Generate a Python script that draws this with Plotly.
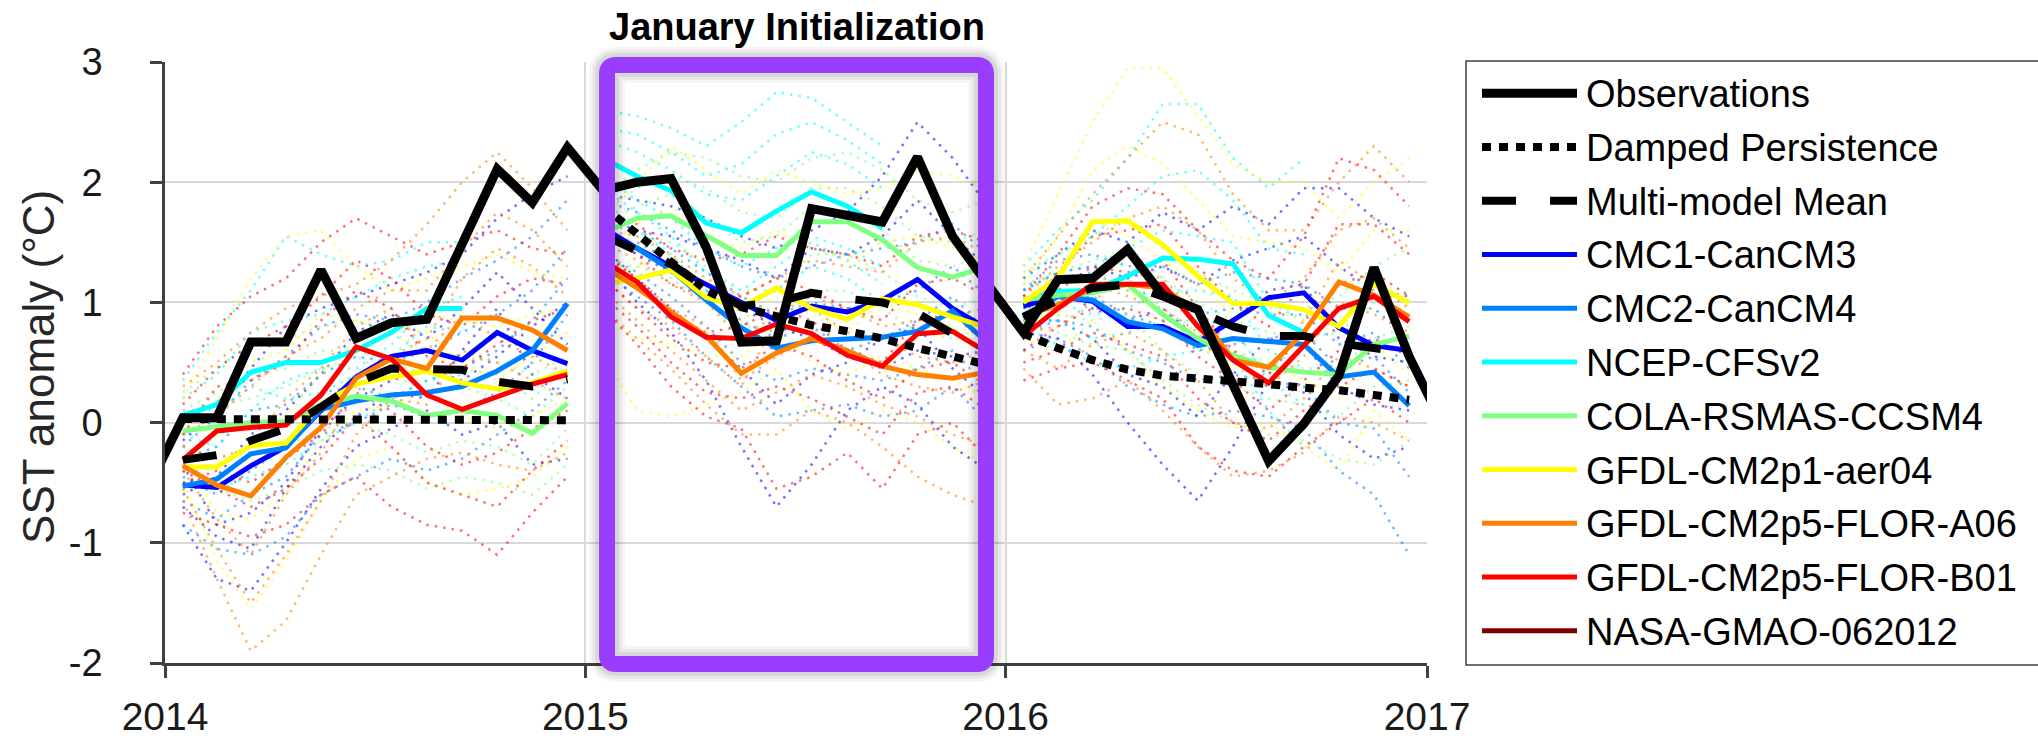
import pandas as pd
import plotly.graph_objects as go

FONT = "Arial, 'Liberation Sans', Helvetica, sans-serif"

# ---------------------------------------------------------------- data
# monthly means are plotted at mid-month, Dec 2013 .. Jan 2017
month_starts = pd.date_range("2013-12-01", "2017-02-01", freq="MS")
month_mid = month_starts[:-1] + (month_starts[1:] - month_starts[:-1]) / 2

forecast_years = [2014, 2015, 2016]
year_ticks = ["2014", "2015", "2016", "2017"]
y_ticks = [-2, -1, 0, 1, 2, 3]
y_tick_text = ["-2", "-1", "0", "1", "2", "3"]

observations = [
    -0.56,
    0.04, 0.04, 0.67, 0.67, 1.27, 0.70, 0.83, 0.86, 1.48, 2.11, 1.83, 2.29,
    1.93, 2.00, 2.03, 1.46, 0.67, 0.68, 1.78, 1.72, 1.67, 2.21, 1.55, 1.15,
    0.75, 1.19, 1.20, 1.44, 1.06, 0.94, 0.33, -0.32, -0.01, 0.39, 1.29, 0.55,
    -0.05,
]

damped_persistence = {
    2014: [0.03, 0.03, 0.03, 0.02, 0.02, 0.02, 0.02, 0.02, 0.02, 0.02, 0.02, 0.02],
    2015: [1.80, 1.57, 1.32, 1.10, 0.96, 0.88, 0.81, 0.76, 0.70, 0.62, 0.55, 0.48],
    2016: [0.74, 0.62, 0.52, 0.44, 0.39, 0.37, 0.35, 0.32, 0.29, 0.27, 0.23, 0.19],
}

multi_model_mean = {
    2014: [-0.31, -0.27, -0.15, -0.05, 0.13, 0.33, 0.45, 0.45, 0.44, 0.34, 0.30, 0.36],
    2015: [1.56, 1.43, 1.32, 1.12, 0.97, 1.00, 1.08, 1.03, 1.00, 0.91, 0.74, 0.62],
    2016: [0.88, 1.02, 1.12, 1.15, 1.05, 0.92, 0.80, 0.72, 0.72, 0.66, 0.62, 0.58],
}

# ensemble means by initialization year
cmc1_mean = {
    2014: [-0.52, -0.54, -0.36, -0.20, 0.10, 0.38, 0.55, 0.60, 0.52, 0.75, 0.60, 0.49],
    2015: [1.62, 1.45, 1.30, 1.15, 1.00, 0.85, 0.97, 0.92, 1.02, 1.19, 0.95, 0.78],
    2016: [0.97, 1.05, 1.01, 0.80, 0.80, 0.67, 0.85, 1.04, 1.08, 0.79, 0.64, 0.60],
}
cmc2_mean = {
    2014: [-0.53, -0.47, -0.26, -0.21, 0.11, 0.18, 0.23, 0.25, 0.30, 0.43, 0.60, 0.99],
    2015: [1.55, 1.45, 1.27, 1.02, 0.79, 0.62, 0.68, 0.70, 0.71, 0.76, 0.93, 0.66],
    2016: [0.87, 1.05, 1.02, 0.84, 0.78, 0.64, 0.70, 0.68, 0.65, 0.38, 0.42, 0.14],
}
cfsv2_mean = {
    2014: [0.06, 0.15, 0.42, 0.50, 0.50, 0.60, 0.75, 0.95, 0.95],
    2015: [2.20, 2.05, 1.93, 1.66, 1.58, 1.76, 1.92, 1.80, 1.62],
    2016: [1.02, 1.09, 1.10, 1.22, 1.37, 1.36, 1.32, 0.89, 0.75],
}
ccsm4_mean = {
    2014: [-0.07, -0.04, 0.00, 0.01, 0.15, 0.22, 0.18, 0.06, 0.10, 0.06, -0.09, 0.16],
    2015: [1.58, 1.70, 1.72, 1.55, 1.39, 1.39, 1.67, 1.67, 1.52, 1.29, 1.21, 1.30],
    2016: [1.02, 1.06, 1.08, 1.15, 0.90, 0.70, 0.56, 0.46, 0.42, 0.40, 0.65, 0.72],
}
cm2p1_mean = {
    2014: [-0.37, -0.37, -0.19, -0.17, 0.15, 0.32, 0.38, 0.43, 0.33, 0.28, 0.33, 0.43],
    2015: [1.15, 1.20, 1.27, 1.04, 0.96, 1.12, 0.95, 0.86, 1.03, 0.98, 0.88, 0.79],
    2016: [1.00, 1.20, 1.67, 1.68, 1.48, 1.22, 0.99, 0.99, 0.94, 0.80, 1.15, 1.00],
}
flor_a06_mean = {
    2014: [-0.36, -0.52, -0.61, -0.29, -0.04, 0.37, 0.53, 0.45, 0.87, 0.87, 0.77, 0.60],
    2015: [1.30, 1.12, 0.92, 0.72, 0.41, 0.58, 0.70, 0.60, 0.47, 0.40, 0.37, 0.42],
    2016: [0.88, 0.98, 1.12, 1.15, 1.12, 0.92, 0.52, 0.46, 0.75, 1.17, 1.06, 0.88],
}
flor_b01_mean = {
    2014: [-0.31, -0.07, -0.04, -0.02, 0.23, 0.63, 0.53, 0.23, 0.11, 0.21, 0.32, 0.40],
    2015: [1.35, 1.17, 0.88, 0.71, 0.70, 0.82, 0.74, 0.56, 0.47, 0.74, 0.76, 0.58],
    2016: [0.72, 0.95, 1.15, 1.15, 1.15, 0.80, 0.52, 0.33, 0.64, 0.95, 1.05, 0.84],
}
gmao_mean = {2014: [], 2015: [], 2016: []}

# individual ensemble members
cmc1_members = {
    2014: [[-0.15, 0.10, 0.45, 0.80, 0.95, 1.05, 1.15, 1.25, 1.40, 1.70, 1.90, 2.05],
           [-0.85, -1.30, -1.40, -1.00, -0.55, -0.20, -0.05, 0.10, -0.10, 0.00, -0.35, -0.30],
           [-0.60, -0.45, -0.10, 0.10, 0.40, 0.75, 0.90, 0.70, 0.95, 1.25, 0.95, 0.65],
           [-0.35, -0.85, -0.75, -0.50, -0.05, 0.20, 0.35, 0.45, 0.35, 0.55, 0.80, 1.00],
           [-0.70, -0.95, -1.05, -0.55, -0.20, 0.05, 0.25, 0.20, 0.60, 0.95, 0.40, 0.20]],
    2015: [[1.90, 1.85, 1.80, 1.70, 1.55, 1.45, 1.60, 1.75, 2.05, 2.50, 2.20, 1.80],
           [1.35, 1.00, 0.75, 0.35, -0.20, -0.70, -0.35, 0.10, 0.30, 0.15, -0.20, -0.40],
           [1.55, 1.40, 1.25, 1.05, 0.95, 0.80, 0.70, 0.55, 0.45, 0.60, 0.55, 0.60],
           [1.70, 1.60, 1.55, 1.45, 1.35, 1.20, 1.45, 1.40, 1.55, 1.85, 1.55, 1.30],
           [1.45, 1.20, 0.95, 0.70, 0.45, 0.15, 0.40, 0.50, 0.70, 0.80, 0.45, 0.20]],
    2016: [[1.20, 1.40, 1.60, 1.50, 1.75, 1.60, 1.80, 1.65, 1.95, 1.95, 1.70, 1.55],
           [0.75, 0.70, 0.40, 0.00, -0.35, -0.65, -0.20, 0.35, 0.25, -0.10, -0.30, -0.20],
           [0.95, 1.10, 0.95, 0.85, 0.95, 0.70, 0.85, 1.10, 1.15, 0.70, 0.55, 0.50],
           [1.10, 1.25, 1.30, 1.20, 1.30, 1.15, 1.35, 1.45, 1.55, 1.30, 1.10, 1.05],
           [0.85, 0.85, 0.70, 0.40, 0.30, 0.05, 0.40, 0.70, 0.65, 0.30, 0.15, 0.10]],
}
cmc2_members = {
    2014: [[-0.20, 0.05, 0.35, 0.55, 0.80, 0.90, 0.85, 1.00, 1.20, 1.35, 1.55, 1.85],
           [-0.85, -1.05, -1.10, -0.95, -0.60, -0.45, -0.30, -0.40, -0.30, -0.10, 0.10, 0.35],
           [-0.45, -0.60, -0.40, -0.20, 0.25, 0.30, 0.20, 0.35, 0.45, 0.60, 0.85, 1.20],
           [-0.65, -0.80, -0.60, -0.45, -0.10, 0.00, 0.15, 0.05, 0.10, 0.25, 0.50, 0.90],
           [-0.30, -0.20, 0.10, 0.15, 0.40, 0.55, 0.50, 0.60, 0.75, 0.90, 1.10, 1.45]],
    2015: [[1.85, 1.75, 1.60, 1.45, 1.30, 1.20, 1.30, 1.40, 1.45, 1.50, 1.65, 1.40],
           [1.25, 1.05, 0.85, 0.55, 0.30, 0.05, 0.10, 0.15, 0.05, 0.10, 0.30, 0.00],
           [1.50, 1.50, 1.35, 1.10, 0.85, 0.70, 0.80, 0.60, 0.70, 0.85, 1.05, 0.75],
           [1.65, 1.60, 1.45, 1.25, 1.05, 0.90, 1.00, 0.95, 1.00, 1.10, 1.30, 1.05],
           [1.40, 1.25, 1.05, 0.80, 0.50, 0.35, 0.45, 0.40, 0.35, 0.45, 0.60, 0.30]],
    2016: [[1.10, 1.35, 1.40, 1.30, 1.30, 1.15, 1.25, 1.20, 1.15, 0.95, 0.95, 0.70],
           [0.60, 0.70, 0.55, 0.30, 0.15, 0.05, 0.10, 0.05, -0.05, -0.40, -0.60, -1.10],
           [0.85, 1.00, 1.05, 0.90, 0.80, 0.60, 0.65, 0.70, 0.75, 0.45, 0.55, 0.25],
           [0.95, 1.20, 1.25, 1.10, 1.05, 0.90, 0.95, 0.90, 0.90, 0.65, 0.75, 0.45],
           [0.75, 0.85, 0.80, 0.60, 0.50, 0.35, 0.40, 0.35, 0.30, 0.00, -0.05, -0.45]],
}
cfsv2_members = {
    2014: [[0.35, 0.75, 1.10, 1.55, 1.40, 1.30, 1.35, 1.50, 1.50],
           [-0.30, -0.55, -0.45, -0.35, -0.15, 0.00, 0.20, 0.35, 0.40],
           [0.20, 0.40, 0.75, 0.85, 0.90, 1.05, 1.20, 1.30, 1.35],
           [0.10, 0.10, 0.30, 0.20, 0.25, 0.40, 0.55, 0.80, 0.75],
           [-0.10, -0.20, 0.10, 0.35, 0.45, 0.45, 0.65, 0.95, 1.05]],
    2015: [[2.60, 2.55, 2.45, 2.30, 2.50, 2.75, 2.70, 2.50, 2.30],
           [1.85, 1.60, 1.40, 1.10, 0.95, 1.10, 1.30, 1.20, 1.00],
           [2.35, 2.25, 2.10, 1.90, 1.85, 2.05, 2.25, 2.15, 1.95],
           [2.05, 1.85, 1.70, 1.45, 1.30, 1.45, 1.55, 1.45, 1.30],
           [2.45, 2.40, 2.25, 2.05, 2.15, 2.40, 2.50, 2.35, 2.15],
           [1.95, 1.75, 1.55, 1.25, 1.10, 1.30, 1.50, 1.35, 1.15]],
    2016: [[1.30, 1.60, 1.85, 2.20, 2.65, 2.65, 2.20, 1.95, 2.20],
           [0.80, 0.65, 0.50, 0.45, 0.55, 0.60, 0.55, 0.10, -0.20],
           [1.10, 1.25, 1.30, 1.45, 1.60, 1.55, 1.50, 1.00, 0.85],
           [0.95, 1.00, 0.90, 0.95, 1.10, 1.10, 1.05, 0.60, 0.45],
           [1.20, 1.40, 1.55, 1.80, 2.05, 2.10, 1.85, 1.45, 1.40],
           [0.85, 0.85, 0.70, 0.75, 0.85, 0.85, 0.80, 0.35, 0.15]],
}
ccsm4_members = {
    2014: [[0.25, 0.45, 0.65, 0.70, 0.80, 0.85, 0.75, 0.60, 0.55, 0.50, 0.40, 0.55],
           [-0.35, -0.55, -0.65, -0.55, -0.40, -0.35, -0.40, -0.55, -0.45, -0.50, -0.60, -0.35],
           [0.05, 0.15, 0.20, 0.30, 0.45, 0.55, 0.40, 0.25, 0.30, 0.20, 0.05, 0.30],
           [-0.20, -0.30, -0.25, -0.20, -0.05, 0.00, -0.10, -0.25, -0.15, -0.20, -0.35, -0.05],
           [0.10, 0.25, 0.40, 0.45, 0.60, 0.60, 0.50, 0.40, 0.45, 0.40, 0.20, 0.45]],
    2015: [[1.90, 2.10, 2.25, 2.20, 2.05, 2.00, 2.20, 2.25, 2.10, 1.85, 1.75, 1.85],
           [1.30, 1.30, 1.20, 1.00, 0.80, 0.80, 1.10, 1.10, 0.95, 0.75, 0.70, 0.80],
           [1.65, 1.80, 1.90, 1.70, 1.50, 1.55, 1.80, 1.75, 1.60, 1.35, 1.30, 1.40],
           [1.75, 1.95, 2.05, 1.95, 1.75, 1.70, 1.95, 1.95, 1.80, 1.55, 1.50, 1.60],
           [1.45, 1.55, 1.50, 1.30, 1.10, 1.10, 1.40, 1.40, 1.25, 1.05, 0.95, 1.05]],
    2016: [[1.25, 1.40, 1.55, 1.70, 1.45, 1.25, 1.10, 1.00, 0.95, 1.05, 1.30, 1.45],
           [0.80, 0.75, 0.65, 0.60, 0.35, 0.15, 0.00, -0.10, -0.15, -0.30, -0.35, -0.15],
           [1.00, 1.05, 1.10, 1.20, 0.95, 0.75, 0.60, 0.50, 0.45, 0.45, 0.70, 0.80],
           [1.15, 1.25, 1.35, 1.45, 1.20, 1.00, 0.85, 0.75, 0.70, 0.75, 1.00, 1.10],
           [0.90, 0.90, 0.85, 0.90, 0.60, 0.40, 0.30, 0.20, 0.15, 0.05, 0.30, 0.35]],
}
cm2p1_members = {
    2014: [[0.20, 0.70, 1.20, 1.55, 1.60, 1.30, 1.10, 1.20, 1.30, 1.40, 1.25, 1.20],
           [-0.50, -1.15, -1.55, -1.15, -0.65, -0.30, -0.20, -0.50, -0.60, -0.55, -0.45, -0.20],
           [-0.55, -0.45, -0.30, 0.05, 0.40, 0.70, 0.80, 0.75, 0.50, 0.35, 0.55, 0.75],
           [-0.30, -0.75, -0.80, -0.60, -0.15, 0.10, 0.15, 0.25, 0.05, -0.05, 0.05, 0.20],
           [-0.10, 0.20, 0.50, 0.60, 0.90, 0.85, 0.75, 0.90, 0.85, 0.80, 0.90, 0.95]],
    2015: [[1.70, 2.00, 2.30, 2.10, 1.90, 2.10, 2.00, 1.90, 1.95, 2.10, 2.05, 1.95],
           [0.55, 0.10, 0.05, 0.15, 0.25, 0.45, 0.10, -0.05, 0.10, 0.00, -0.20, -0.35],
           [1.20, 1.30, 1.40, 1.00, 0.85, 1.05, 0.90, 0.75, 1.00, 0.90, 0.80, 0.70],
           [1.45, 1.65, 1.80, 1.55, 1.45, 1.60, 1.45, 1.35, 1.50, 1.55, 1.45, 1.35],
           [0.85, 0.70, 0.65, 0.55, 0.55, 0.75, 0.50, 0.40, 0.55, 0.45, 0.35, 0.20]],
    2016: [[1.30, 1.90, 2.50, 2.95, 2.95, 2.55, 2.15, 2.00, 2.00, 1.70, 2.00, 2.20],
           [0.70, 0.60, 0.85, 0.60, 0.30, 0.10, -0.05, 0.00, -0.20, -0.40, 0.10, -0.15],
           [1.05, 1.25, 1.70, 1.55, 1.35, 1.15, 0.90, 0.95, 0.85, 0.75, 1.20, 0.95],
           [1.15, 1.55, 2.10, 2.30, 2.15, 1.85, 1.55, 1.50, 1.45, 1.25, 1.60, 1.60],
           [0.85, 0.90, 1.25, 1.10, 0.90, 0.65, 0.45, 0.50, 0.35, 0.20, 0.65, 0.40]],
}
flor_a06_members = {
    2014: [[0.30, 0.50, 0.75, 0.95, 1.05, 1.15, 1.35, 1.65, 2.00, 2.25, 1.95, 1.60],
           [-0.65, -1.30, -1.90, -1.65, -1.10, -0.60, -0.45, -0.30, -0.25, -0.35, -0.40, -0.25],
           [-0.40, -0.80, -1.10, -0.60, -0.25, 0.25, 0.55, 0.70, 1.20, 1.45, 1.30, 1.05],
           [-0.20, -0.30, -0.20, 0.20, 0.45, 0.80, 0.95, 0.60, 0.90, 0.70, 0.55, 0.40],
           [-0.55, -1.05, -1.50, -1.10, -0.65, -0.10, 0.20, 0.15, 0.60, 0.50, 0.35, 0.20],
           [-0.10, 0.05, 0.30, 0.55, 0.70, 0.95, 1.10, 1.10, 1.45, 1.75, 1.60, 1.30]],
    2015: [[1.60, 1.55, 1.40, 1.20, 1.05, 1.20, 1.35, 1.30, 1.25, 1.50, 1.55, 1.40],
           [0.95, 0.70, 0.45, 0.15, -0.10, -0.10, 0.10, 0.00, -0.20, -0.45, -0.60, -0.70],
           [1.40, 1.20, 0.95, 0.80, 0.35, 0.55, 0.70, 0.60, 0.40, 0.30, 0.25, 0.35],
           [1.20, 0.95, 0.80, 0.55, 0.30, 0.85, 0.95, 0.75, 0.70, 0.55, 0.50, 0.60],
           [1.10, 0.85, 0.60, 0.35, 0.10, 0.25, 0.40, 0.30, 0.15, 0.05, -0.10, -0.20],
           [1.50, 1.35, 1.15, 1.00, 0.70, 0.90, 1.05, 0.95, 0.80, 0.85, 0.90, 0.95]],
    2016: [[1.20, 1.55, 1.90, 2.20, 2.50, 2.40, 1.90, 1.60, 1.60, 2.00, 2.30, 2.00],
           [0.45, 0.15, 0.20, 0.35, 0.10, -0.20, -0.45, -0.40, -0.25, 0.05, 0.00, -0.15],
           [0.90, 1.05, 1.15, 1.05, 0.95, 0.75, 0.35, 0.40, 0.85, 1.35, 1.15, 0.95],
           [0.75, 0.80, 1.00, 1.25, 1.20, 0.90, 0.55, 0.30, 0.55, 1.00, 0.90, 0.75],
           [1.05, 1.30, 1.50, 1.70, 1.80, 1.60, 1.20, 1.00, 1.20, 1.60, 1.70, 1.45],
           [0.60, 0.45, 0.65, 0.75, 0.60, 0.35, 0.00, -0.05, 0.20, 0.55, 0.45, 0.30]],
}
flor_b01_members = {
    2014: [[0.40, 0.80, 1.05, 1.20, 1.50, 1.70, 1.55, 1.40, 1.50, 1.60, 1.45, 1.40],
           [-0.75, -0.85, -0.95, -0.85, -0.60, -0.45, -0.70, -0.85, -0.90, -1.10, -0.75, -0.45],
           [-0.10, 0.30, 0.35, 0.50, 0.85, 1.10, 0.95, 0.55, 0.45, 0.65, 0.85, 0.95],
           [-0.50, -0.40, -0.50, -0.30, -0.10, 0.25, 0.10, -0.20, -0.35, -0.25, -0.05, 0.10],
           [-0.40, -0.55, -0.70, -0.55, -0.30, 0.05, -0.20, -0.50, -0.60, -0.70, -0.40, -0.15],
           [0.15, 0.45, 0.65, 0.80, 1.05, 1.35, 1.20, 0.90, 0.80, 1.05, 1.20, 1.15]],
    2015: [[1.75, 1.65, 1.45, 1.35, 1.40, 1.55, 1.45, 1.40, 1.30, 1.55, 1.60, 1.50],
           [0.95, 0.65, 0.30, 0.05, -0.05, -0.55, -0.45, -0.25, -0.55, -0.10, 0.00, -0.30],
           [1.40, 1.20, 0.90, 0.75, 0.80, 0.95, 0.85, 0.60, 0.50, 0.85, 0.90, 0.65],
           [1.20, 0.95, 0.70, 0.50, 0.45, 0.65, 0.55, 0.35, 0.20, 0.45, 0.50, 0.30],
           [1.55, 1.40, 1.15, 1.05, 1.05, 1.20, 1.10, 0.95, 0.85, 1.15, 1.20, 1.05],
           [1.05, 0.80, 0.50, 0.25, 0.20, 0.30, 0.20, 0.05, -0.10, 0.25, 0.30, 0.10]],
    2016: [[1.05, 1.40, 1.80, 1.95, 1.90, 1.60, 1.35, 1.20, 1.55, 2.20, 2.10, 1.80],
           [0.35, 0.45, 0.50, 0.35, 0.20, -0.20, -0.40, -0.45, -0.20, 0.00, 0.20, 0.00],
           [0.80, 1.10, 1.30, 1.25, 1.35, 0.95, 0.60, 0.40, 0.75, 1.15, 1.25, 1.05],
           [0.60, 0.80, 0.95, 0.95, 0.85, 0.55, 0.35, 0.10, 0.35, 0.60, 0.70, 0.55],
           [0.90, 1.25, 1.55, 1.60, 1.65, 1.30, 1.00, 0.80, 1.15, 1.65, 1.65, 1.40],
           [0.50, 0.60, 0.75, 0.65, 0.55, 0.20, 0.00, -0.15, 0.10, 0.30, 0.45, 0.30]],
}
gmao_members = {2014: [], 2015: [], 2016: []}

model_names = ["CMC1-CanCM3", "CMC2-CanCM4", "NCEP-CFSv2", "COLA-RSMAS-CCSM4",
               "GFDL-CM2p1-aer04", "GFDL-CM2p5-FLOR-A06", "GFDL-CM2p5-FLOR-B01",
               "NASA-GMAO-062012"]
model_colors = ["#0000FF", "#0080FF", "#00FFFF", "#80FF80",
                "#FFFF00", "#FF8000", "#FF0000", "#800000"]
model_means = [cmc1_mean, cmc2_mean, cfsv2_mean, ccsm4_mean,
               cm2p1_mean, flor_a06_mean, flor_b01_mean, gmao_mean]
model_members = [cmc1_members, cmc2_members, cfsv2_members, ccsm4_members,
                 cm2p1_members, flor_a06_members, flor_b01_members, gmao_members]

# ---------------------------------------------------------------- geometry
W, H = 2038, 750
L, R, T, B = 165, 611, 62, 81
PW, PH = W - L - R, H - T - B


def px_x(px):
    return (px - L) / PW


def px_y(py):
    return (T + PH - py) / PH


def year_x(year):
    return [d for d in month_mid if d.year == year]


fig = go.Figure()

# ensemble members (thin dotted)
for color, members in zip(model_colors, model_members):
    for yr in forecast_years:
        xs = year_x(yr)
        for m in members[yr]:
            fig.add_trace(go.Scatter(
                x=xs[:len(m)], y=m, mode="lines", opacity=0.55,
                line=dict(color=color, width=2.5, dash="2.5px,6px"),
                showlegend=False, hoverinfo="skip"))

# ensemble means
for name, color, means in zip(model_names, model_colors, model_means):
    for yr in forecast_years:
        vals = means[yr]
        if not vals:
            continue
        xs = year_x(yr)
        fig.add_trace(go.Scatter(
            x=xs[:len(vals)], y=vals, mode="lines", name=name,
            line=dict(color=color, width=5), showlegend=False))

for yr in forecast_years:
    fig.add_trace(go.Scatter(
        x=year_x(yr), y=multi_model_mean[yr], mode="lines", name="Multi-model Mean",
        line=dict(color="black", width=8, dash="34px,34px"), showlegend=False))
for yr in forecast_years:
    fig.add_trace(go.Scatter(
        x=year_x(yr), y=damped_persistence[yr], mode="lines", name="Damped Persistence",
        line=dict(color="black", width=8, dash="9px,8px"), showlegend=False))

fig.add_trace(go.Scatter(
    x=month_mid, y=observations, mode="lines", name="Observations",
    line=dict(color="black", width=9), showlegend=False))

# ---------------------------------------------------------------- decorations
shapes = []


def rounded_rect(x0, y0, x1, y1, r):
    pts = [
        ("M", x0 + r, y0), ("L", x1 - r, y0), ("Q", x1, y0, x1, y0 + r),
        ("L", x1, y1 - r), ("Q", x1, y1, x1 - r, y1), ("L", x0 + r, y1),
        ("Q", x0, y1, x0, y1 - r), ("L", x0, y0 + r), ("Q", x0, y0, x0 + r, y0),
    ]
    out = []
    for p in pts:
        cmd, coords = p[0], p[1:]
        pairs = [f"{px_x(coords[i]):.5f},{px_y(coords[i + 1]):.5f}"
                 for i in range(0, len(coords), 2)]
        out.append(cmd + " ".join(pairs))
    return " ".join(out) + " Z"


box_path = rounded_rect(607, 65, 986, 670, 9)
for w, a in [(36, 0.04), (30, 0.05), (24, 0.07)]:
    shapes.append(dict(type="path", path=box_path, xref="paper", yref="paper",
                       layer="above", line=dict(color=f"rgba(0,0,0,{a})", width=w)))
shapes.append(dict(type="path", path=box_path, xref="paper", yref="paper",
                   layer="above", line=dict(color="#9A3DFF", width=16)))

# legend frame
shapes.append(dict(type="rect", xref="paper", yref="paper",
                   x0=px_x(1466), x1=px_x(2070), y0=px_y(671), y1=px_y(61),
                   line=dict(color="#404040", width=1.5), fillcolor="rgba(0,0,0,0)",
                   layer="above"))

legend_entries = [("Observations", "black", 9, "solid"),
                  ("Damped Persistence", "black", 8, "9px,8px"),
                  ("Multi-model Mean", "black", 8, "34px,34px")]
legend_entries += [(n, c, 5, "solid") for n, c in zip(model_names, model_colors)]

annotations = []
row0, row_step = 93.5, 54.3
for i, (label, color, width, dash) in enumerate(legend_entries):
    yc = row0 + i * row_step
    shapes.append(dict(type="line", xref="paper", yref="paper",
                       x0=px_x(1482), x1=px_x(1577), y0=px_y(yc), y1=px_y(yc),
                       line=dict(color=color, width=width, dash=dash), layer="above"))
    annotations.append(dict(x=px_x(1584), y=px_y(yc + 1), xref="paper", yref="paper",
                            text=label, showarrow=False, xanchor="left", yanchor="middle",
                            font=dict(family=FONT, size=38, color="black")))

annotations.append(dict(x=px_x(796.5), y=px_y(27), xref="paper", yref="paper",
                        text="<b>January Initialization</b>", showarrow=False,
                        xanchor="center", yanchor="middle",
                        font=dict(family=FONT, size=38, color="black")))
annotations.append(dict(x=px_x(39), y=px_y(370), xref="paper", yref="paper",
                        text="SST anomaly (°C)", showarrow=False, textangle=-90,
                        xanchor="center", yanchor="middle",
                        font=dict(family=FONT, size=44, color="#262626")))

tick_dates = [f"{y}-01-01" for y in year_ticks]

fig.update_layout(
    width=W, height=H, autosize=False,
    margin=dict(l=L, r=R, t=T, b=B, pad=0),
    paper_bgcolor="white", plot_bgcolor="white",
    showlegend=False,
    shapes=shapes, annotations=annotations,
    font=dict(family=FONT, color="#1a1a1a"),
    xaxis=dict(type="date", range=["2014-01-01", "2017-01-01"],
               tickvals=tick_dates, ticktext=year_ticks,
               showgrid=True, gridcolor="#D9D9D9", gridwidth=1.5,
               showline=True, linecolor="#404040", linewidth=2.5,
               ticks="outside", ticklen=12, tickwidth=2.5, tickcolor="#404040",
               ticklabelstandoff=5,
               tickfont=dict(size=39, family=FONT, color="#1a1a1a"),
               zeroline=False, fixedrange=True),
    yaxis=dict(range=[-2, 3], tickvals=y_ticks, ticktext=y_tick_text,
               showgrid=True, gridcolor="#D9D9D9", gridwidth=1.5,
               showline=True, linecolor="#404040", linewidth=2.5,
               ticks="outside", ticklen=12, tickwidth=2.5, tickcolor="#404040",
               ticklabelstandoff=40,
               tickfont=dict(size=38, family=FONT, color="#1a1a1a"),
               zeroline=False, fixedrange=True),
)

fig.write_html("out.html", config={"displayModeBar": False})
